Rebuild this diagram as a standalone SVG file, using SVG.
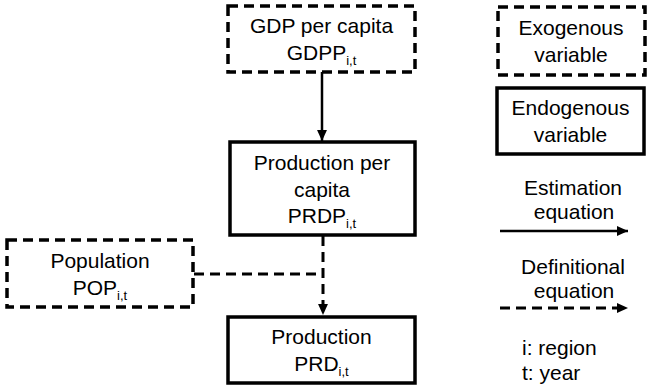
<svg xmlns="http://www.w3.org/2000/svg" width="647" height="387" viewBox="0 0 647 387">
  <style>
    .exo { fill: #fff; stroke: #000; stroke-width: 3.5; stroke-dasharray: 10 6; }
    .endo { fill: #fff; stroke: #000; stroke-width: 3.5; }
    .lbl { font-family: "Liberation Sans", Arial, sans-serif; font-size: 21px; fill: #000; text-anchor: middle; }
    .sub { font-size: 13px; }
    .est { fill: none; stroke: #000; stroke-width: 2.5; }
    .def { fill: none; stroke: #000; stroke-width: 3; stroke-dasharray: 10 6; }
  </style>
  <defs>
    <marker id="head" viewBox="0 0 10 10" refX="10" refY="5" markerWidth="11" markerHeight="11" orient="auto" markerUnits="userSpaceOnUse">
      <path d="M0,0.5 L10,5 L0,9.5 Z" fill="#000"/>
    </marker>
  </defs>
  <rect width="647" height="387" fill="#fff"/>

  <!-- connectors -->
  <g id="connectors">
    <line class="est" x1="322" y1="72" x2="322" y2="141" marker-end="url(#head)"/>
    <polyline class="def" points="194,274 323,274"/>
    <line class="def" x1="323" y1="236" x2="323" y2="315" marker-end="url(#head)"/>
  </g>

  <g id="gdpp">
    <rect class="exo" x="228" y="6" width="187" height="66"/>
    <text class="lbl" x="321.5" y="33">GDP per capita</text>
    <text class="lbl" x="321.5" y="60">GDPP<tspan class="sub" dy="5">i,t</tspan></text>
  </g>

  <g id="prdp">
    <rect class="endo" x="230" y="142" width="185" height="93"/>
    <text class="lbl" x="322" y="170">Production per</text>
    <text class="lbl" x="322" y="197">capita</text>
    <text class="lbl" x="322" y="223">PRDP<tspan class="sub" dy="5">i,t</tspan></text>
  </g>

  <g id="pop">
    <rect class="exo" x="7" y="240" width="186" height="67"/>
    <text class="lbl" x="100" y="268">Population</text>
    <text class="lbl" x="100" y="295">POP<tspan class="sub" dy="5">i,t</tspan></text>
  </g>

  <g id="prd">
    <rect class="endo" x="228" y="317" width="187" height="66"/>
    <text class="lbl" x="321.5" y="344">Production</text>
    <text class="lbl" x="321.5" y="371">PRD<tspan class="sub" dy="5">i,t</tspan></text>
  </g>

  <!-- legend -->
  <g id="legend-exo">
    <rect class="exo" x="498" y="7" width="147" height="68"/>
    <text class="lbl" x="571" y="35">Exogenous</text>
    <text class="lbl" x="571" y="62">variable</text>
  </g>
  <g id="legend-endo">
    <rect class="endo" x="497" y="88" width="147" height="66"/>
    <text class="lbl" x="570.5" y="115">Endogenous</text>
    <text class="lbl" x="570.5" y="142">variable</text>
  </g>
  <g id="legend-est">
    <text class="lbl" x="573" y="195">Estimation</text>
    <text class="lbl" x="574" y="219">equation</text>
    <line class="est" x1="500" y1="231" x2="628" y2="231" marker-end="url(#head)"/>
  </g>
  <g id="legend-def">
    <text class="lbl" x="573" y="274">Definitional</text>
    <text class="lbl" x="574" y="298">equation</text>
    <line class="def" x1="500" y1="308" x2="628" y2="308" marker-end="url(#head)"/>
  </g>
  <g id="legend-idx">
    <text class="lbl" x="522" y="355" style="text-anchor:start">i: region</text>
    <text class="lbl" x="522" y="380" style="text-anchor:start">t: year</text>
  </g>
</svg>
